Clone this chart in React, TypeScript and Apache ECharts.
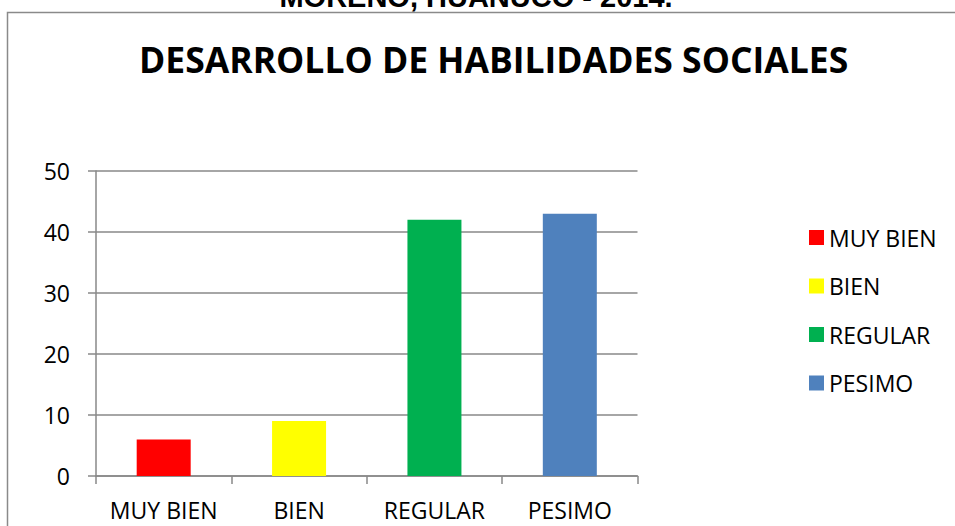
import React, { useEffect, useRef } from "react";
import * as echarts from "echarts";

const categories = ["MUY BIEN", "BIEN", "REGULAR", "PESIMO"];
const values = [6, 9, 42, 43];
const colors = ["#FF0000", "#FFFF00", "#00B050", "#4F81BD"];
const yTicks = { min: 0, max: 50, interval: 10 };
const mainTitle = "DESARROLLO DE HABILIDADES SOCIALES";
const cutTitle = "MORENO, HUÁNUCO - 2014.";

export default function App() {
  const ref = useRef<HTMLDivElement>(null);
  useEffect(() => {
    if (!ref.current) return;
    const chart = echarts.init(ref.current, null, { renderer: "svg" });
    const axisGray = "#888888";
    const font = "'Open Sans', sans-serif";
    chart.setOption({
      animation: false,
      backgroundColor: "#ffffff",
      title: {
        text: mainTitle,
        left: 134,
        top: 36,
        textStyle: { fontFamily: font, fontWeight: "bold", fontSize: 35.5, color: "#000" },
      },
      graphic: [
        {
          type: "rect",
          shape: { x: 7.5, y: 12.5, width: 1000, height: 600 },
          style: { fill: "none", stroke: "#8a8a8a", lineWidth: 1.5 },
          silent: true,
          z: -1,
        },
        {
          type: "text",
          x: 476,
          y: 11,
          style: {
            text: cutTitle,
            fontFamily: "'Liberation Sans', Arial, sans-serif",
            fontWeight: "bold",
            fontSize: 29,
            fill: "#000",
            textAlign: "center",
            textVerticalAlign: "bottom",
          },
        },
      ],
      legend: {
        orient: "vertical",
        left: 804,
        top: 221,
        itemWidth: 15,
        itemHeight: 15,
        itemGap: 25.5,
        icon: "rect",
        textStyle: { fontFamily: font, fontSize: 23, color: "#000" },
        data: categories,
      },
      grid: { left: 96, right: 317.5, top: 171, bottom: 50, containLabel: false },
      xAxis: {
        type: "category",
        data: categories,
        axisLine: { show: true, lineStyle: { color: axisGray, width: 1.5 } },
        axisTick: { show: true, length: 8, lineStyle: { color: axisGray, width: 1.5 } },
        axisLabel: { fontFamily: font, fontSize: 23, color: "#000", margin: 22, interval: 0 },
        splitLine: { show: false },
      },
      yAxis: {
        type: "value",
        min: yTicks.min,
        max: yTicks.max,
        interval: yTicks.interval,
        axisLine: { show: true, lineStyle: { color: axisGray, width: 1.5 } },
        axisTick: { show: true, length: 8, lineStyle: { color: axisGray, width: 1.5 } },
        axisLabel: { fontFamily: font, fontSize: 23, color: "#000", margin: 26 },
        splitLine: { show: true, lineStyle: { color: axisGray, width: 1.5 } },
      },
      series: categories.map((name, i) => ({
        name,
        type: "bar",
        stack: "total",
        barWidth: 54,
        itemStyle: { color: colors[i] },
        data: categories.map((_, j) => (j === i ? values[i] : "-")),
      })),
    });
    return () => chart.dispose();
  }, []);
  return <div ref={ref} style={{ width: 955, height: 526, position: "fixed", left: 0, top: 0 }} />;
}
